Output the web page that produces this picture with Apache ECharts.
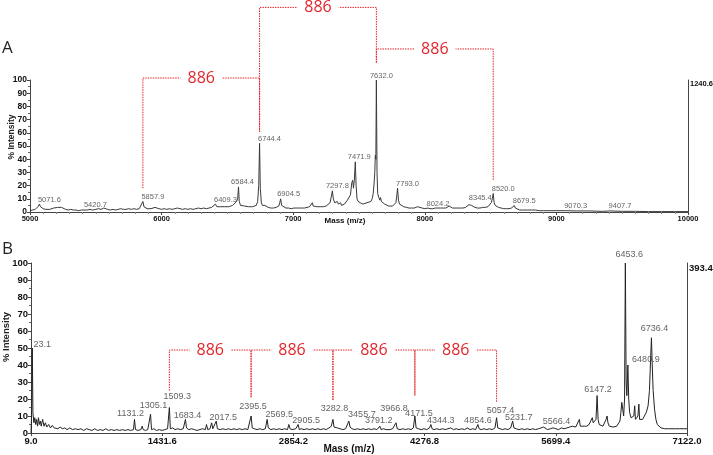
<!DOCTYPE html>
<html>
<head>
<meta charset="utf-8">
<script src="https://cdn.jsdelivr.net/npm/echarts@6/dist/echarts.min.js"></script>
<style>
  html, body { margin: 0; padding: 0; background: #fff; }
  #chart { width: 713px; height: 455px; }
</style>
</head>
<body>
<div id="chart"></div>
<script>
// panel A spectrum, m/z vs % intensity
const specA = [
  [5000,1],[5010,2],[5020,1.5],[5030,2.5],[5040,2],[5050,3],[5060,4],[5071.6,6],[5080,4],[5090,3.5],
  [5100,2.5],[5110,3],[5120,2],[5135,2.5],[5150,2],[5165,2.5],[5180,3],[5195,2.5],[5210,3.5],[5225,4],
  [5240,3.5],[5255,3],[5270,2],[5290,1.5],[5310,2],[5330,1.5],[5350,1.5],[5370,1],[5390,1.5],[5410,1.5],
  [5420.7,2],[5435,1.5],[5455,2],[5475,1.5],[5500,2],[5520,2.5],[5540,2],[5560,3],[5575,2.5],[5590,2],
  [5610,1.5],[5630,2],[5650,1.5],[5670,2],[5690,2.5],[5710,2],[5730,2],[5750,2.5],[5770,2],[5790,2.5],
  [5810,2],[5830,2.5],[5845,3.5],[5857.9,8],[5866,4],[5875,3],[5890,2.5],[5905,2],[5920,2.5],[5935,3],
  [5950,3.5],[5965,3],[5980,2.5],[6000,2],[6020,2.5],[6040,2],[6060,2.5],[6080,2],[6100,2.5],[6120,3],
  [6140,2.5],[6160,2],[6180,2.5],[6200,2],[6220,2.5],[6240,2],[6260,2.5],[6280,3],[6300,2.5],[6320,3],
  [6340,2.5],[6360,3],[6380,3.5],[6395,4],[6409.3,6],[6420,4],[6435,4.5],[6450,4],[6465,3.5],[6480,4],
  [6495,3.5],[6510,4],[6525,4.5],[6540,5],[6555,6],[6570,8],[6578,10],[6584.4,19],[6590,8],[6600,5],
  [6615,4],[6630,4.5],[6645,4],[6660,4],[6675,4.5],[6690,4],[6705,4.5],[6720,5],[6730,8],[6738,20],
  [6744.4,52],[6750,18],[6758,7],[6766,5],[6775,6],[6785,5],[6795,4.5],[6810,3.5],[6830,3],[6850,3],
  [6870,3.5],[6890,4.5],[6898,7],[6904.5,10],[6912,5],[6925,3.5],[6945,3],[6965,3],[6985,2.5],[7005,3],
  [7025,3],[7045,3],[7065,3],[7085,3],[7105,3.5],[7125,4],[7138,5],[7145,7],[7152,4.5],[7165,4],
  [7180,4],[7195,3.5],[7210,4],[7230,4],[7250,4.5],[7265,5],[7280,7],[7290,12],[7297.8,16],[7305,10],
  [7315,7],[7325,6],[7335,8],[7343,6],[7352,5],[7360,7],[7367,5],[7378,5],[7390,6],[7400,7],
  [7412,9],[7425,10],[7435,13],[7445,22],[7452,24],[7458,18],[7465,25],[7471.9,38],[7478,20],[7485,10],
  [7493,8],[7500,9],[7510,7],[7520,6],[7530,6],[7545,6.5],[7560,7],[7575,7],[7590,8],[7600,10],
  [7608,14],[7615,22],[7620,30],[7624,43],[7628,40],[7632,100],[7637,30],[7642,14],[7650,11],[7658,9],
  [7663,11],[7670,8],[7678,7],[7685,8],[7695,6],[7710,5],[7725,4.5],[7740,4.5],[7755,4.5],[7770,5],
  [7780,7],[7787,12],[7793,18],[7800,9],[7808,6],[7820,4.5],[7840,4],[7860,3.5],[7880,3],[7900,3],
  [7920,3],[7935,3],[7945,4],[7952,5],[7960,3.5],[7980,3],[8000,2.5],[8024.2,3],[8040,2.5],[8060,2.5],
  [8080,3],[8100,3],[8120,3],[8140,3],[8160,3],[8175,3.5],[8185,4.5],[8195,3.5],[8210,3],[8230,3],
  [8250,3],[8270,3],[8290,3],[8310,3.5],[8325,4],[8335,5.5],[8345.4,7],[8355,5],[8365,4],[8380,3.5],
  [8400,3],[8420,3],[8440,3.5],[8460,3.5],[8480,4],[8495,5],[8505,7],[8513,10],[8520,14],[8527,7],
  [8535,5],[8548,4],[8560,3.5],[8580,3],[8600,2.5],[8620,2.5],[8640,2.5],[8660,3],[8672,4],[8679.5,5],
  [8688,3],[8700,2],[8720,1.5],[8750,1.5],[8780,1.5],[8810,1.5],[8840,1.5],[8870,1],[8900,1],[8950,1],
  [9000,1],[9070.3,1],[9150,0.8],[9250,0.8],[9350,0.5],[9407.7,0.8],[9500,0.5],[9600,0.5],[9700,0.3],
  [9800,0.3],[9900,0.3],[10000,0.3]
];

// panel B spectrum
const specB = [
  [9,0],[15,10],[23.1,50],[30,12],[40,6],[50,9],[60,5],[70,8],[80,4],[90,9],[100,5],[110,7],[120,4],
  [135,8],[150,4],[165,6],[180,3.5],[200,5],[220,3],[240,4.5],[260,3],[280,4],[300,2.5],[325,3.5],
  [350,2.5],[375,3],[400,2],[430,3],[460,2],[490,2.5],[520,2],[550,2.5],[580,1.5],[610,2.5],[640,2],
  [670,1.5],[700,2.5],[730,1.5],[760,2],[790,1.5],[820,2.5],[850,1.5],[880,2],[910,1.5],[940,2],
  [970,1.5],[1000,2],[1030,1.5],[1060,2],[1090,1.5],[1120,2],[1131.2,8],[1142,2],[1170,1.5],[1200,2],
  [1215,4],[1225,2],[1250,1.5],[1275,2],[1305.1,11],[1316,2],[1340,2.5],[1370,1.5],[1400,2],[1430,1.5],
  [1460,2],[1490,2.5],[1509.3,15],[1520,2.5],[1545,3],[1570,2],[1600,2.5],[1630,2],[1660,2.5],[1683.4,8],
  [1695,3],[1720,2],[1750,2.5],[1780,2],[1810,1.5],[1840,2],[1870,2.5],[1900,2],[1912,5],[1925,2],
  [1950,2.5],[1968,6],[1980,2.5],[2000,2],[2017.5,7],[2030,2.5],[2060,2],[2090,2.5],[2120,2],[2150,2.5],
  [2180,2],[2210,2.5],[2240,2],[2270,2.5],[2300,2],[2330,2.5],[2360,2],[2380,2.5],[2395.5,10],[2408,3],
  [2430,2.5],[2460,2],[2490,2.5],[2520,2],[2550,2.5],[2569.5,8],[2582,3],[2610,2],[2640,2.5],[2670,2],
  [2700,2.5],[2730,2],[2760,2.5],[2790,2],[2805,5],[2818,2.5],[2840,2],[2860,3],[2880,2.5],[2905.5,5],
  [2918,2],[2940,2.5],[2970,2],[3000,2.5],[3030,2],[3060,2.5],[3090,2],[3120,2.5],[3150,2],[3180,2.5],
  [3210,2],[3240,3],[3265,4],[3282.8,8],[3295,3.5],[3310,4],[3330,3],[3360,2.5],[3390,2],[3420,2.5],
  [3440,3],[3455.7,7],[3468,3.5],[3490,2.5],[3520,2],[3550,2.5],[3580,2],[3610,2.5],[3640,2],[3670,2.5],
  [3700,2],[3730,2.5],[3760,2],[3791.2,4],[3805,2],[3830,2.5],[3860,2],[3880,3],[3900,2],[3930,2.5],
  [3950,2],[3966.8,6],[3980,2.5],[4010,2],[4040,2.5],[4070,2],[4100,2.5],[4130,2],[4155,3],[4171.5,10],
  [4185,3],[4210,2.5],[4240,2],[4270,2.5],[4300,2],[4330,3],[4344.3,5],[4358,2.5],[4380,2],[4410,2.5],
  [4440,2],[4470,2.5],[4500,2],[4530,2.5],[4560,3],[4590,2],[4620,2.5],[4650,2],[4680,2.5],[4710,2],
  [4740,3],[4770,2],[4800,2.5],[4830,2],[4854.6,5],[4868,2.5],[4890,2],[4920,2.5],[4950,2],[4980,2.5],
  [5010,2],[5040,3],[5057.4,9],[5070,3],[5090,2.5],[5120,2],[5150,2.5],[5180,2],[5210,3],[5231.7,7],
  [5245,3],[5270,2.5],[5300,2],[5330,2.5],[5360,2],[5390,2.5],[5420,2],[5450,2.5],[5480,2],[5510,2.5],
  [5540,3],[5566.4,3.5],[5580,2.5],[5610,2],[5640,2.5],[5670,3],[5700,2.5],[5730,2],[5760,3],[5790,2.5],
  [5820,3],[5850,3.5],[5880,4],[5900,5],[5915,3.5],[5935,4],[5955,8],[5965,4],[5985,3.5],[6010,4],
  [6035,4],[6060,5],[6080,6],[6095,9],[6105,6],[6120,5],[6135,8],[6147.2,22],[6158,8],[6170,5],
  [6190,4],[6210,4],[6230,5],[6245,8],[6255,10],[6265,6],[6280,4],[6300,4],[6320,3.5],[6340,4],
  [6360,4],[6380,5],[6395,7],[6405,12],[6415,18],[6425,14],[6435,10],[6445,20],[6453.6,100],[6462,30],
  [6470,22],[6480.9,40],[6490,20],[6500,12],[6515,9],[6530,8],[6545,10],[6555,16],[6563,8],[6575,7],
  [6590,10],[6600,17],[6608,8],[6620,7],[6640,8],[6660,10],[6680,12],[6700,16],[6715,25],[6725,40],
  [6736.4,56],[6745,40],[6755,25],[6770,14],[6785,8],[6800,5],[6820,4],[6840,3],[6860,3.5],[6880,2.5],
  [6900,3.5],[6920,2.5],[6940,3.5],[6960,2.5],[6980,3.5],[7000,2.5],[7020,3.5],[7040,2.5],[7060,3],
  [7080,2.5],[7100,3],[7122,2.5]
];

// labelled peaks [m/z, % intensity]
const peaksA = [
  [5071.6,6],[5420.7,2],[5857.9,8],[6409.3,6],[6584.4,19],[6744.4,52],[6904.5,10],[7297.8,16],
  [7471.9,38],[7632.0,100],[7793.0,18],[8024.2,3],[8345.4,7],[8520.0,14],[8679.5,5],[9070.3,1],[9407.7,1]
];
const peaksB = [
  [23.1,50],[1131.2,8],[1305.1,11],[1509.3,15],[1683.4,8],[2017.5,7],[2395.5,10],[2569.5,8],
  [2905.5,5],[3282.8,8],[3455.7,7],[3791.2,4],[3966.8,6],[4171.5,10],[4344.3,5],[4854.6,5],
  [5057.4,9],[5231.7,7],[5566.4,3],[6147.2,22],[6453.6,100],[6480.9,40],[6736.4,56]
];

// 886 Da spacing between peaks
const ladderA = [[5857.9, 6744.4], [6744.4, 7632.0], [7632.0, 8520.0]];
const ladderB = [[1509.3, 2395.5], [2395.5, 3282.8], [3282.8, 4171.5], [4171.5, 5057.4]];
const stepLabel = '886';

const ticksY = [0, 10, 20, 30, 40, 50, 60, 70, 80, 90, 100];
const ticksB = [9.0, 1431.6, 2854.2, 4276.8, 5699.4, 7122.0];
const maxCountA = 1240.6;
const maxCountB = 393.4;

const font = '"Liberation Sans", Arial, sans-serif';
const red = '#e3262b';

// bracket levels and leg ends (in % units) for each ladder step
const levelsA = [[101.5, 18, 60.6], [155, 60.6, 113], [123.5, 113, 24]];
const levelsB = [[48.8, 25, 21], [48.8, 21, 19.4], [48.8, 19.4, 22], [48.8, 22, 18]];

// label nudges in px [dx, dy], like the instrument software spreads them
const nudgeA = { '7471.9': [4, 0], '7632.0': [5, 0], '6584.4': [4, 0], '7297.8': [5, 0], '6904.5': [8, 0] }
const nudgeB = {
  '23.1': [10, 2], '1131.2': [-4, -1], '1305.1': [3, -4], '1509.3': [8, -6], '1683.4': [2, 1],
  '2017.5': [7, 1.5], '2395.5': [2, -4.5], '2569.5': [12, 0], '2905.5': [8, 1], '3282.8': [1.5, -6],
  '3455.7': [13, -1.5], '3791.2': [-1, -1], '3966.8': [-2, -9], '4171.5': [4, 3], '4344.3': [10, 1],
  '4854.6': [0, 1], '5057.4': [4, -2], '5231.7': [6, 1.5], '5566.4': [13, -1.5], '6147.2': [1, -1],
  '6453.6': [4, -3.5], '6480.9': [18, 0], '6736.4': [3, -4]
}

function bracketSeries (pairs, levels, xi) {
  return {
    type: 'custom',
    xAxisIndex: xi,
    yAxisIndex: xi * 2,
    silent: true,
    clip: false,
    z: 5,
    data: pairs.map((p, i) => [p[0], p[1], levels[i][0], levels[i][1], levels[i][2]]),
    renderItem: function (params, api) {
      const a = api.coord([api.value(0), api.value(3)])
      const b = api.coord([api.value(0), api.value(2)])
      const c = api.coord([api.value(1), api.value(2)])
      const d = api.coord([api.value(1), api.value(4)])
      return {
        type: 'group',
        children: [
          {
            type: 'polyline',
            shape: { points: [a, b, c, d] },
            style: { stroke: red, lineWidth: 1, lineDash: [1.5, 1], fill: null }
          },
          {
            type: 'text',
            z2: 10,
            style: {
              x: (b[0] + c[0]) / 2,
              y: b[1],
              text: stepLabel,
              align: 'center',
              verticalAlign: 'middle',
              fill: red,
              font: '16px "Open Sans", "Noto Sans", sans-serif',
              backgroundColor: '#fff',
              padding: [0, 7]
            }
          }
        ]
      }
    }
  }
}

function labelSeries (peaks, xi, size, nudge, dx) {
  return {
    type: 'scatter',
    xAxisIndex: xi,
    yAxisIndex: xi * 2,
    symbolSize: 1,
    silent: true,
    itemStyle: { color: 'transparent' },
    z: 4,
    data: peaks.map(p => {
      const key = p[0].toFixed(1)
      return { value: p, label: { offset: nudge[key] || [dx, 0] } }
    }),
    label: {
      show: true,
      position: 'top',
      distance: 0,
      formatter: p => p.value[0].toFixed(1),
      fontFamily: font,
      fontSize: size,
      color: '#3a3a3a'
    }
  }
}

const axisLineStyle = { lineStyle: { color: '#444', width: 1 } }

const chart = echarts.init(document.getElementById('chart'))
chart.setOption({
  animation: false,
  backgroundColor: '#fff',
  title: [
    { text: 'A', left: -3, top: 35, textStyle: { fontFamily: '"Open Sans", sans-serif', fontWeight: 'normal', fontSize: 17, color: '#222' } },
    { text: 'B', left: -3, top: 236, textStyle: { fontFamily: '"Open Sans", sans-serif', fontWeight: 'normal', fontSize: 17, color: '#222' } }
  ],
  grid: [
    { left: 30, right: 25, top: 80, height: 132, outerBoundsMode: 'none', containLabel: false },
    { left: 31, right: 26, top: 263, height: 170, outerBoundsMode: 'none', containLabel: false }
  ],
  xAxis: [
    {
      type: 'value', gridIndex: 0, min: 5000, max: 10000, interval: 1000,
      axisLine: axisLineStyle,
      axisTick: { show: true, length: 3, lineStyle: { color: '#444' } },
      minorTick: { show: true, splitNumber: 10, length: 2, lineStyle: { color: '#888' } },
      splitLine: { show: false },
      axisLabel: { formatter: v => String(v), fontFamily: font, fontWeight: 'bold', fontSize: 7.5, color: '#111', margin: 3 },
      name: 'Mass (m/z)', nameLocation: 'middle', nameGap: 5, nameMoveOverlap: false,
      nameTextStyle: { fontFamily: font, fontWeight: 'bold', fontSize: 8, color: '#111', padding: [0, 28, 0, 0] }
    },
    {
      type: 'value', gridIndex: 1, min: 9, max: 7122,
      axisLine: axisLineStyle,
      axisTick: { show: true, length: 3, customValues: ticksB, lineStyle: { color: '#444' } },
      splitLine: { show: false },
      axisLabel: {
        customValues: ticksB,
        formatter: v => v.toFixed(1),
        fontFamily: font, fontWeight: 'bold', fontSize: 9.5, color: '#111', margin: 3
      },
      name: 'Mass (m/z)', nameLocation: 'middle', nameGap: 11, nameMoveOverlap: false,
      nameTextStyle: { fontFamily: font, fontWeight: 'bold', fontSize: 10, color: '#111', padding: [0, 20, 0, 0] }
    }
  ],
  yAxis: [
    {
      type: 'value', gridIndex: 0, min: 0, max: 100, interval: 10,
      axisLine: { show: true, lineStyle: { color: '#444' } },
      axisTick: { show: true, length: 3, lineStyle: { color: '#444' } },
      minorTick: { show: true, splitNumber: 2, length: 2, lineStyle: { color: '#666' } },
      splitLine: { show: false },
      axisLabel: { customValues: ticksY, fontFamily: font, fontWeight: 'bold', fontSize: 8.5, color: '#111', margin: 3 },
      name: '% Intensity', nameLocation: 'middle', nameGap: 14, nameMoveOverlap: false,
      nameTextStyle: { fontFamily: font, fontWeight: 'bold', fontSize: 8.5, color: '#222', padding: [0, 0, 0, 18] }
    },
    {
      type: 'value', gridIndex: 0, position: 'right', min: 0, max: maxCountA,
      axisLine: { show: true, lineStyle: { color: '#444' } },
      axisTick: { show: false },
      splitLine: { show: false },
      axisLabel: {
        customValues: [maxCountA], formatter: v => v.toFixed(1), verticalAlign: 'top',
        fontFamily: font, fontWeight: 'bold', fontSize: 7.5, color: '#111', margin: 2
      }
    },
    {
      type: 'value', gridIndex: 1, min: 0, max: 100, interval: 10,
      axisLine: { show: true, lineStyle: { color: '#444' } },
      axisTick: { show: true, length: 3, lineStyle: { color: '#444' } },
      minorTick: { show: true, splitNumber: 2, length: 2, lineStyle: { color: '#666' } },
      splitLine: { show: false },
      axisLabel: { customValues: ticksY, fontFamily: font, fontWeight: 'bold', fontSize: 9.5, color: '#111', margin: 3 },
      name: '% Intensity', nameLocation: 'middle', nameGap: 20, nameMoveOverlap: false,
      nameTextStyle: { fontFamily: font, fontWeight: 'bold', fontSize: 9.5, color: '#222', padding: [0, 0, 0, 22] }
    },
    {
      type: 'value', gridIndex: 1, position: 'right', min: 0, max: maxCountB,
      axisLine: { show: true, lineStyle: { color: '#444' } },
      axisTick: { show: false },
      splitLine: { show: false },
      axisLabel: {
        customValues: [maxCountB], formatter: v => v.toFixed(1), verticalAlign: 'top',
        fontFamily: font, fontWeight: 'bold', fontSize: 9.5, color: '#111', margin: 2
      }
    }
  ],
  series: [
    {
      type: 'line', xAxisIndex: 0, yAxisIndex: 0, data: specA,
      showSymbol: false, symbol: 'none', silent: true,
      lineStyle: { color: '#3a3a3a', width: 1 }
    },
    {
      type: 'line', xAxisIndex: 1, yAxisIndex: 2, data: specB,
      showSymbol: false, symbol: 'none', silent: true,
      lineStyle: { color: '#222', width: 1 }
    },
    labelSeries(peaksA, 0, 7.5, nudgeA, 10),
    labelSeries(peaksB, 1, 9, nudgeB, 4),
    bracketSeries(ladderA, levelsA, 0),
    bracketSeries(ladderB, levelsB, 1)
  ]
})
</script>
</body>
</html>
